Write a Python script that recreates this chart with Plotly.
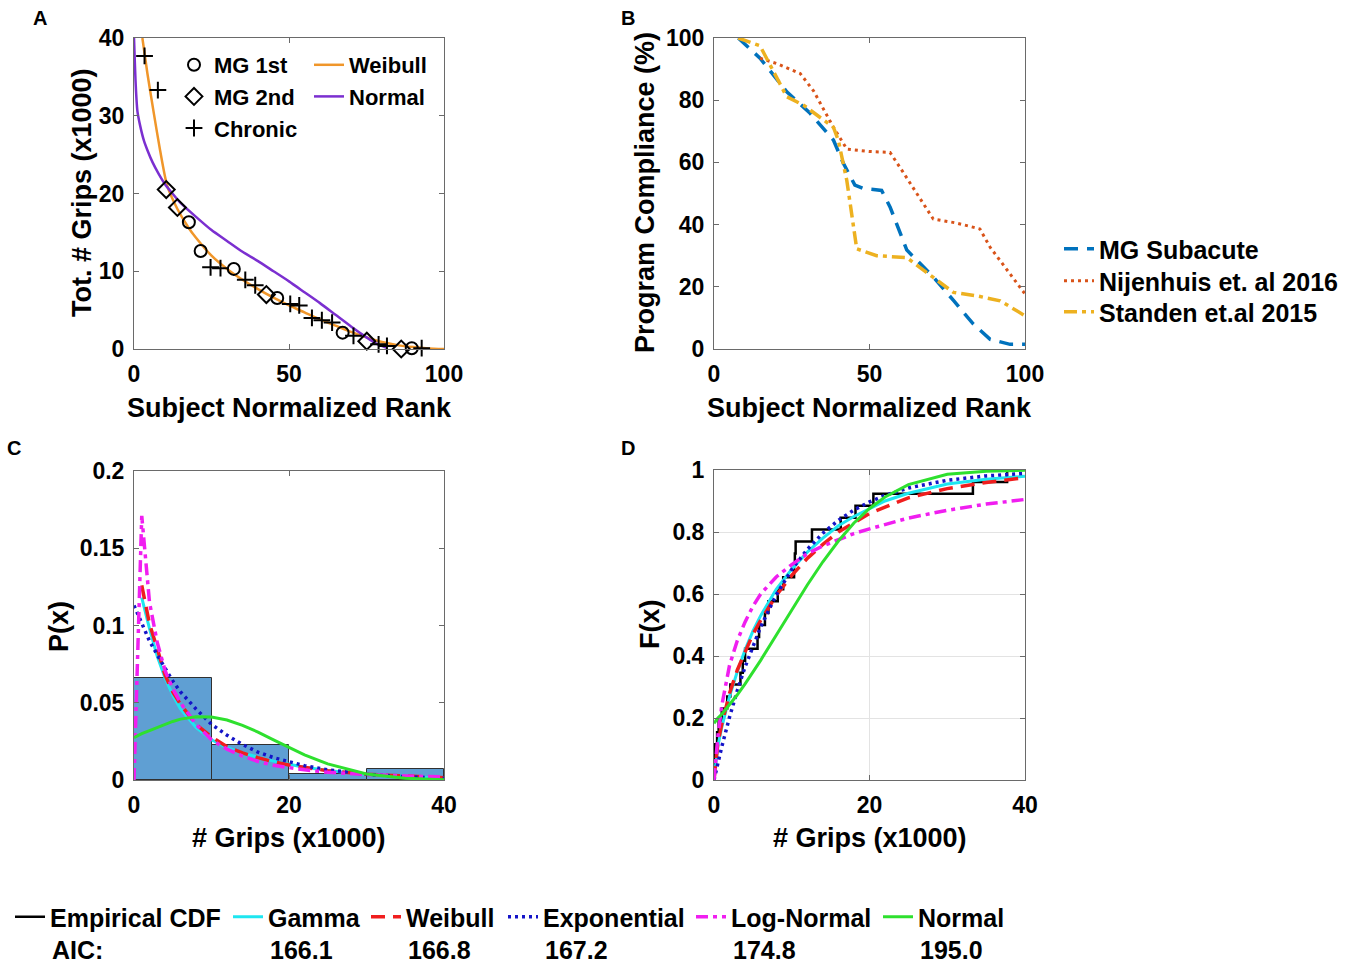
import numpy as np
import plotly.graph_objects as go

W, H = 1360, 967
FONT = "Liberation Sans"

# ---------------- Panel A data ----------------
chronic_rank = [3.4, 7.7, 24.7, 27.9, 35.9, 39.1, 50.4, 53.3, 57.4, 60.6, 63.9, 70.8, 78.9, 81.6, 92.8]
chronic_grips = [37.7, 33.3, 10.5, 10.4, 8.9, 8.2, 5.8, 5.6, 4.0, 3.7, 3.4, 1.7, 0.6, 0.4, 0.1]
mg1_rank = [17.7, 21.5, 32.2, 46.2, 67.3, 89.6]
mg1_grips = [16.3, 12.6, 10.3, 6.55, 2.1, 0.1]
mg2_rank = [10.4, 14.0, 42.7, 75.1, 86.2]
mg2_grips = [20.5, 18.2, 7.0, 1.0, 0.0]

weib_rank = [2.7, 4.3, 6.4, 8.4, 10.7, 14, 17.6, 20, 25, 30, 35, 40, 45, 50, 55, 60, 65, 70, 75, 80, 85, 90, 95, 100]
weib_grips = [40, 35.5, 30.3, 25.6, 21.0, 18.0, 15.6, 14.3, 12.0, 10.3, 8.9, 7.7, 6.6, 5.6, 4.7, 3.8, 3.0, 2.2, 1.5, 0.9, 0.5, 0.25, 0.08, 0.0]
norm_rank = [0, 0.55, 1.1, 2, 3.2, 4.3, 6, 8, 10, 12, 15, 20, 25, 30, 35, 40, 45, 50, 55, 60, 65, 70, 75, 78.3, 81.5]
norm_grips = [40, 34.0, 30.6, 28.7, 26.8, 25.6, 24.0, 22.5, 21.2, 20.2, 18.8, 17.0, 15.3, 13.9, 12.5, 11.3, 10.0, 8.7, 7.3, 5.9, 4.4, 2.9, 1.5, 0.65, 0.15]

# ---------------- Panel B data ----------------
mg_sub_x = [7.8, 14.8, 23.4, 30.9, 38.4, 41.6, 45.3, 48.0, 53.9, 56.6, 62.0, 70.5, 77.0, 83.4, 88.8, 95.2, 100]
mg_sub_y = [100, 93.5, 82.7, 75.8, 67.2, 59.7, 52.7, 51.6, 51.0, 45.7, 31.8, 23.2, 15.6, 8.0, 3.1, 1.5, 1.5]
nij_x = [14.8, 20.1, 27.7, 32.0, 38.4, 42.7, 50, 56.6, 59.8, 70.5, 78, 85.5, 88.8, 100]
nij_y = [93.5, 91.8, 88.6, 83.0, 71.3, 64.3, 63.5, 63.2, 58.4, 41.8, 40.5, 38.6, 32.7, 17.7]
std_x = [7.8, 14.8, 23.4, 28.8, 38.4, 40.0, 42.7, 45.9, 52.3, 62.0, 70.5, 77.0, 84.5, 92.0, 100]
std_y = [100, 97.5, 81.1, 78.4, 71.3, 67.0, 54.2, 32.2, 30.0, 29.4, 23.0, 18.2, 17.1, 15.5, 10.7]
b_names = ["MG Subacute", "Nijenhuis et. al 2016", "Standen et.al 2015"]

# ---------------- Panel C data ----------------
hist_centers = [5, 15, 25, 35]
hist_density = [0.066, 0.0227, 0.0037, 0.0071]
pdf_x = [0, 1, 2, 3, 4, 5, 6, 8, 10, 12, 14, 16, 18, 20, 22, 25, 30, 35, 40]
pdf_gamma = [None, 0.118, 0.098, 0.080, 0.066, 0.055, 0.046, 0.034, 0.026, 0.021, 0.0175, 0.0148, 0.0122, 0.0102, 0.0083, 0.0062, 0.0035, 0.002, 0.0011]
pdf_weibull = [None, 0.126, 0.101, 0.085, 0.068, 0.057, 0.049, 0.036, 0.028, 0.0215, 0.0175, 0.0145, 0.0118, 0.0097, 0.008, 0.006, 0.0037, 0.0024, 0.0015]
pdf_expo = [0.113, 0.102, 0.090, 0.081, 0.072, 0.064, 0.057, 0.046, 0.036, 0.029, 0.023, 0.018, 0.0145, 0.0117, 0.0093, 0.0066, 0.0037, 0.0021, 0.0012]
pdf_lognorm = [0, 0.171, 0.115, 0.089, 0.071, 0.059, 0.050, 0.036, 0.026, 0.020, 0.0155, 0.012, 0.0095, 0.0078, 0.0066, 0.005, 0.0035, 0.0026, 0.002]
pdf_normal = [0.0274, 0.030, 0.032, 0.034, 0.0363, 0.0379, 0.0394, 0.041, 0.0407, 0.0388, 0.0354, 0.031, 0.026, 0.021, 0.0163, 0.0104, 0.0039, 0.0011, 0.0002]

# ---------------- Panel D data ----------------
cdf_x = [0, 0.5, 1, 2, 3, 4, 5, 6, 8, 10, 12, 14, 16, 18, 20, 22, 25, 30, 35, 40]
cdf_gamma = [0, 0.11, 0.17, 0.27, 0.35, 0.42, 0.48, 0.53, 0.615, 0.68, 0.735, 0.78, 0.82, 0.85, 0.875, 0.9, 0.925, 0.955, 0.97, 0.98]
cdf_weibull = [0, 0.12, 0.18, 0.28, 0.355, 0.415, 0.47, 0.515, 0.595, 0.66, 0.715, 0.76, 0.8, 0.83, 0.86, 0.88, 0.91, 0.94, 0.96, 0.975]
cdf_expo = [0, 0.055, 0.107, 0.203, 0.289, 0.365, 0.433, 0.494, 0.597, 0.679, 0.744, 0.796, 0.838, 0.871, 0.897, 0.918, 0.942, 0.967, 0.981, 0.989]
cdf_lognorm = [0, 0.14, 0.24, 0.37, 0.45, 0.51, 0.56, 0.6, 0.655, 0.695, 0.73, 0.755, 0.775, 0.795, 0.81, 0.825, 0.845, 0.87, 0.89, 0.905]
cdf_normal = [0.183, 0.2, 0.212, 0.242, 0.275, 0.31, 0.347, 0.386, 0.467, 0.549, 0.629, 0.704, 0.771, 0.829, 0.876, 0.913, 0.953, 0.986, 0.996, 0.999]

fit_names = ["Gamma", "Weibull", "Exponential", "Log-Normal", "Normal"]
aic_values = ["166.1", "166.8", "167.2", "174.8", "195.0"]

# empirical CDF from all subjects in panel A
all_grips = np.sort(np.array(chronic_grips + mg1_grips + mg2_grips))
n = len(all_grips)
ecdf_x = np.concatenate([[all_grips[0]], all_grips])
ecdf_y = np.concatenate([[0.0], np.arange(1, n + 1) / n])

# ---------------- styles ----------------
C_GAMMA = "#1EE6F0"
C_WEIB = "#F01E1E"
C_EXPO = "#1414C8"
C_LOGN = "#F01EF0"
C_NORM = "#2EE02E"
C_ORANGE = "#F0962A"
C_PURPLE = "#7B2FD0"

fig = go.Figure()

# Panel A
fig.add_trace(go.Scatter(x=weib_rank, y=weib_grips, mode="lines", name="Weibull",
                         line=dict(color=C_ORANGE, width=2.5, shape="spline", smoothing=0.6),
                         xaxis="x", yaxis="y", legend="legend2"))
fig.add_trace(go.Scatter(x=norm_rank, y=norm_grips, mode="lines", name="Normal",
                         line=dict(color=C_PURPLE, width=2.5, shape="spline", smoothing=0.6),
                         xaxis="x", yaxis="y", legend="legend2"))
mk = dict(color="black", size=12, line=dict(color="black", width=2))
fig.add_trace(go.Scatter(x=mg1_rank, y=mg1_grips, mode="markers", name="MG 1st",
                         marker=dict(mk, symbol="circle-open"), cliponaxis=False,
                         xaxis="x", yaxis="y", legend="legend"))
fig.add_trace(go.Scatter(x=mg2_rank, y=mg2_grips, mode="markers", name="MG 2nd",
                         marker=dict(mk, symbol="diamond-open", size=13), cliponaxis=False,
                         xaxis="x", yaxis="y", legend="legend"))
fig.add_trace(go.Scatter(x=chronic_rank, y=chronic_grips, mode="markers", name="Chronic",
                         marker=dict(mk, symbol="cross-thin-open", size=12), cliponaxis=False,
                         xaxis="x", yaxis="y", legend="legend"))

# Panel B  (one legend box per entry so rows sit where the reference has them)
b_legends = ["legend3", "legend5", "legend6"]
b_styles = [("#0072BD", 3.5, "14px,9px"), ("#D95319", 3, "3px,4px"), ("#EDB120", 3.5, "13px,5px,4px,5px")]
for xs, ys, nm, (col, w, d), lg in zip([mg_sub_x, nij_x, std_x], [mg_sub_y, nij_y, std_y], b_names, b_styles, b_legends):
    fig.add_trace(go.Scatter(x=xs, y=ys, mode="lines", name=nm,
                             line=dict(color=col, width=w, dash=d),
                             xaxis="x2", yaxis="y2", legend=lg))

# Panel C
fig.add_trace(go.Bar(x=hist_centers, y=hist_density, width=10, showlegend=False,
                     marker=dict(color="#5F9FD3", line=dict(color="#303030", width=1)),
                     xaxis="x3", yaxis="y3"))
styles = [
    (C_GAMMA, 3, "solid"),
    (C_WEIB, 3.5, "14px,8px"),
    (C_EXPO, 3.5, "3px,4px"),
    (C_LOGN, 3.5, "12px,5px,4px,5px"),
    (C_NORM, 3, "solid"),
]
pdfs = [pdf_gamma, pdf_weibull, pdf_expo, pdf_lognorm, pdf_normal]
for (col, w, d), ys in zip(styles, pdfs):
    fig.add_trace(go.Scatter(x=pdf_x, y=ys, mode="lines", showlegend=False,
                             line=dict(color=col, width=w, dash=d),
                             xaxis="x3", yaxis="y3"))

# Panel D
bottom_legends = ["legend4", "legend7", "legend8", "legend9", "legend10", "legend11"]
fig.add_trace(go.Scatter(x=ecdf_x, y=ecdf_y, mode="lines", name="Empirical CDF",
                         line=dict(color="black", width=2.5, shape="hv"),
                         xaxis="x4", yaxis="y4", legend=bottom_legends[0]))
cdfs = [cdf_gamma, cdf_weibull, cdf_expo, cdf_lognorm, cdf_normal]
for (col, w, d), ys, nm, lg in zip(styles, cdfs, fit_names, bottom_legends[1:]):
    fig.add_trace(go.Scatter(x=cdf_x, y=ys, mode="lines", name=nm,
                             line=dict(color=col, width=w, dash=d),
                             xaxis="x4", yaxis="y4", legend=lg))

# ---------------- axes ----------------
tickfont = dict(family=FONT, size=23, color="black", weight="bold")
base = dict(showline=True, mirror="ticks", linecolor="#6a6a6a", linewidth=1,
            ticks="inside", ticklen=5, tickcolor="#6a6a6a", tickfont=tickfont,
            showgrid=False, zeroline=False, fixedrange=True, automargin=False)

def xd(l, r):
    return [l / W, r / W]

def yd(t, b):
    return [1 - b / H, 1 - t / H]

fig.update_layout(
    xaxis=dict(base, domain=xd(134, 444), range=[0, 100], tickvals=[0, 50, 100], anchor="y", ticklabelstandoff=4),
    yaxis=dict(base, domain=yd(38, 349), range=[0, 40], dtick=10, anchor="x", ticklabelstandoff=4),
    xaxis2=dict(base, domain=xd(714, 1025), range=[0, 100], tickvals=[0, 50, 100], anchor="y2", ticklabelstandoff=4),
    yaxis2=dict(base, domain=yd(38, 349), range=[0, 100], dtick=20, anchor="x2", ticklabelstandoff=4),
    xaxis3=dict(base, domain=xd(134, 444), range=[0, 40], dtick=20, anchor="y3", ticklabelstandoff=4),
    yaxis3=dict(base, domain=yd(471, 780), range=[0, 0.2], dtick=0.05, anchor="x3", ticklabelstandoff=4),
    xaxis4=dict(base, domain=xd(714, 1025), range=[0, 40], dtick=20, anchor="y4", ticklabelstandoff=4,
                showgrid=True, gridcolor="#e3e3e3", gridwidth=1),
    yaxis4=dict(base, domain=yd(470, 780), range=[0, 1], dtick=0.2, anchor="x4", ticklabelstandoff=4,
                showgrid=True, gridcolor="#e3e3e3", gridwidth=1),
)

legfont = dict(family=FONT, size=22, color="black", weight="bold")

def leg(x, y, size):
    return dict(x=x / W, y=1 - y / H, xanchor="left", yanchor="top", bgcolor="rgba(0,0,0,0)",
                font=dict(legfont, size=size), tracegroupgap=0, itemwidth=30)

layout_legends = {
    "legend": leg(174, 44, 22),
    "legend2": leg(309, 44, 22),
}
# Panel B legend rows (centres at 250, 282, 313 px)
for lg, yc in zip(b_legends, [250, 282, 313]):
    layout_legends[lg] = leg(1059, yc - 24, 25)
# bottom legend entries (text starts at these x positions)
for lg, xt in zip(bottom_legends, [50, 268, 406, 543, 731, 918]):
    layout_legends[lg] = leg(xt - 40, 918 - 24, 25)

fig.update_layout(
    width=W, height=H, margin=dict(l=0, r=0, t=0, b=0, pad=0, autoexpand=False),
    paper_bgcolor="white", plot_bgcolor="white", bargap=0,
    **layout_legends,
)

# ---------------- text annotations ----------------
def ann(text, x, y, size=27, angle=0, xanchor="center"):
    fig.add_annotation(text=text, x=x / W, y=1 - y / H, xref="paper", yref="paper",
                       showarrow=False, textangle=angle, xanchor=xanchor, yanchor="middle",
                       font=dict(family=FONT, size=size, color="black", weight="bold"))

ann("A", 40, 18, size=20)
ann("B", 628, 18, size=20)
ann("C", 14, 448, size=20)
ann("D", 628, 448, size=20)

ann("Subject Normalized Rank", 289, 408)
ann("Tot. # Grips (x1000)", 82, 193, angle=-90)
ann("Subject Normalized Rank", 870, 408)
ann("Program Compliance (%)", 645, 193, angle=-90)
ann("# Grips (x1000)", 289, 838)
ann("P(x)", 59, 627, angle=-90)
ann("# Grips (x1000)", 870, 838)
ann("F(x)", 650, 624, angle=-90)

ann("AIC:", 50, 950, size=25, xanchor="left")
for xpos, val in zip([268, 406, 543, 731, 918], aic_values):
    ann(val, xpos, 950, size=25, xanchor="left")

fig.write_html("out.html", config={"displayModeBar": False},
               post_script="document.body.style.margin='0';document.body.style.overflow='hidden';")
